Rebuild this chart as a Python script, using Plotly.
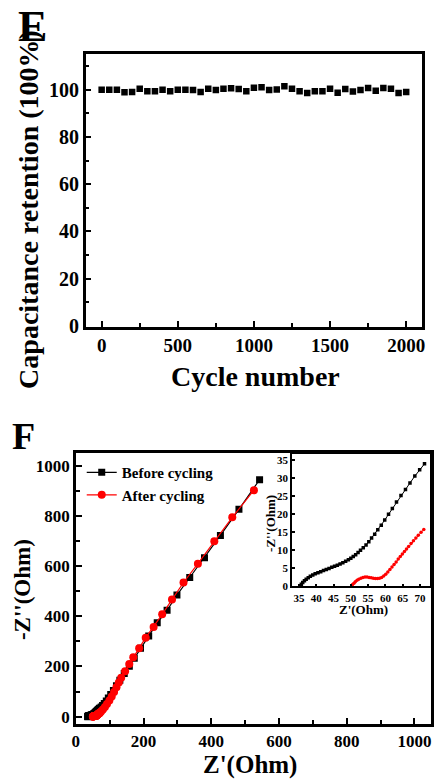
import plotly.graph_objects as go

# ---------------- Panel E data ----------------
cycles = list(range(0, 2001, 50))
retention = [100.0, 100.0, 100.0, 98.9, 99.0, 100.4, 99.4, 99.4, 100.0, 99.4,
             100.0, 100.0, 99.9, 99.0, 100.4, 99.9, 100.4, 100.6, 100.3, 99.3,
             100.8, 101.0, 99.9, 100.1, 101.5, 100.4, 99.3, 98.6, 99.4, 99.4,
             100.4, 98.7, 100.3, 99.2, 99.9, 100.7, 99.6, 100.7, 100.4, 98.6, 99.0]

# ---------------- Panel F data ----------------
# high-frequency part (shown in the inset and in the main plot)
before_zre_hf = [35.3, 35.7, 36.1, 36.6, 37.1, 37.7, 38.3, 39.0, 39.7, 40.5, 41.3, 42.1,
                 42.9, 43.7, 44.5, 45.3, 46.1, 46.9, 47.7, 48.5, 49.3, 50.0, 50.7, 51.4,
                 52.1, 52.8, 53.6, 54.4, 55.2, 56.0, 56.9, 57.8, 58.8, 59.8, 60.9, 62.0,
                 63.2, 64.5, 65.8, 67.1, 68.5, 69.9, 71.3]
before_zim_hf = [0.0, 0.6, 1.1, 1.6, 2.0, 2.4, 2.8, 3.2, 3.5, 3.8, 4.1, 4.4,
                 4.7, 5.0, 5.3, 5.6, 5.9, 6.2, 6.6, 7.0, 7.4, 7.8, 8.3, 8.8,
                 9.4, 10.0, 10.7, 11.5, 12.4, 13.4, 14.5, 15.7, 17.0, 18.4, 20.0, 21.6,
                 23.4, 25.2, 26.9, 28.7, 30.6, 32.4, 34.0]
# low-frequency part (main plot only)
before_zre_lf = [75, 79, 84, 90, 96, 103, 111, 120, 130, 143, 158, 172.6, 191, 215.2,
                 240.4, 269.5, 298.6, 336.4, 380, 427, 481.7, 542.7]
before_zim_lf = [38, 44, 52, 62, 74, 88, 104, 123, 145, 172, 201, 233, 273, 322,
                 374, 424, 485, 555, 634, 723, 827, 945]

after_zre_hf = [50.2, 50.5, 50.9, 51.3, 51.8, 52.3, 52.9, 53.5, 54.1, 54.7, 55.3, 55.9,
                56.5, 57.1, 57.7, 58.3, 58.9, 59.5, 60.1, 60.7, 61.3, 61.9, 62.5, 63.1,
                63.7, 64.3, 64.9, 65.5, 66.1, 66.7, 67.4, 68.1, 68.8, 69.5, 70.3, 71.1]
after_zim_hf = [0.0, 0.5, 0.9, 1.3, 1.7, 2.0, 2.3, 2.5, 2.6, 2.6, 2.5, 2.4,
                2.3, 2.2, 2.2, 2.3, 2.5, 2.9, 3.4, 4.0, 4.7, 5.4, 6.1, 6.8,
                7.6, 8.3, 9.0, 9.7, 10.4, 11.1, 11.9, 12.7, 13.4, 14.2, 15.0, 15.8]
after_zre_lf = [75, 80, 86, 92, 99, 106, 113, 120, 127, 134, 145.5, 158, 169.6, 187,
                206.4, 229.7, 255, 284, 318, 360.5, 409, 462, 526]
after_zim_lf = [21, 28, 38, 50, 64, 80, 98, 117, 136, 155, 181, 210, 237, 273,
                315, 358, 408, 467, 535, 610, 700, 795, 903]

W, H = 436, 784
FONT = "Liberation Serif"


def px_x(p):
    return p / W


def px_y(p):
    return 1 - p / H


fig = go.Figure()

fig.add_trace(go.Scatter(x=cycles, y=retention, mode="markers",
                         marker=dict(symbol="square", size=6.5, color="black"),
                         xaxis="x", yaxis="y", showlegend=False))

fig.add_trace(go.Scatter(x=before_zre_hf + before_zre_lf, y=before_zim_hf + before_zim_lf,
                         mode="lines+markers", name="Before cycling",
                         line=dict(color="black", width=1.2),
                         marker=dict(symbol="square", size=7, color="black"),
                         xaxis="x2", yaxis="y2"))
fig.add_trace(go.Scatter(x=after_zre_hf + after_zre_lf, y=after_zim_hf + after_zim_lf,
                         mode="lines+markers", name="After cycling",
                         line=dict(color="red", width=1.2),
                         marker=dict(symbol="circle", size=8, color="red"),
                         xaxis="x2", yaxis="y2"))

fig.add_trace(go.Scatter(x=before_zre_hf, y=before_zim_hf, mode="lines+markers",
                         line=dict(color="black", width=1),
                         marker=dict(symbol="square", size=3.5, color="black"),
                         xaxis="x3", yaxis="y3", showlegend=False))
fig.add_trace(go.Scatter(x=after_zre_hf, y=after_zim_hf, mode="lines+markers",
                         line=dict(color="red", width=1),
                         marker=dict(symbol="circle", size=3.5, color="red"),
                         xaxis="x3", yaxis="y3", showlegend=False))

ax_common = dict(showgrid=False, zeroline=False, showline=True, linecolor="black",
                 mirror=True, ticks="inside", tickcolor="black")

fig.update_layout(
    width=W, height=H, margin=dict(l=0, r=0, t=0, b=0),
    paper_bgcolor="white", plot_bgcolor="white",
    font=dict(family=FONT, color="black", weight="bold"),
    xaxis=dict(**ax_common, domain=[px_x(83), px_x(425)], range=[-105, 2105],
               tickvals=[0, 500, 1000, 1500, 2000], ticklen=6, tickwidth=2, linewidth=2.5,
               minor=dict(dtick=250, tick0=0, ticks="inside", ticklen=4, tickwidth=2),
               tickfont=dict(size=19, family=FONT, weight="bold"), anchor="y"),
    yaxis=dict(**ax_common, domain=[px_y(331), px_y(55)], range=[-0.4, 115],
               tickvals=[0, 20, 40, 60, 80, 100], ticklen=6, tickwidth=2, linewidth=2.5,
               minor=dict(dtick=10, tick0=0, ticks="inside", ticklen=4, tickwidth=2),
               tickfont=dict(size=20, family=FONT, weight="bold"), anchor="x"),
    xaxis2=dict(**ax_common, domain=[px_x(73), px_x(434)], range=[0, 1049],
                tickvals=[0, 200, 400, 600, 800, 1000], ticklen=6, tickwidth=2, linewidth=2.5,
                minor=dict(dtick=100, tick0=0, ticks="inside", ticklen=4, tickwidth=2),
                tickfont=dict(size=17, family=FONT, weight="bold"), anchor="y2"),
    yaxis2=dict(**ax_common, domain=[px_y(733), px_y(459)], range=[-28, 1051],
                tickvals=[0, 200, 400, 600, 800, 1000], ticklen=6, tickwidth=2, linewidth=2.5,
                minor=dict(dtick=100, tick0=0, ticks="inside", ticklen=4, tickwidth=2),
                tickfont=dict(size=17, family=FONT, weight="bold"), anchor="x2"),
    xaxis3=dict(**ax_common, domain=[px_x(292.7), px_x(433)], range=[33.0, 72.9],
                tickvals=[35, 40, 45, 50, 55, 60, 65, 70], ticklen=3, tickwidth=1.5, linewidth=1.8,
                tickfont=dict(size=11, family=FONT, weight="bold"), anchor="y3"),
    yaxis3=dict(**ax_common, domain=[px_y(594), px_y(460)], range=[0, 36.7],
                tickvals=[0, 5, 10, 15, 20, 25, 30, 35], ticklen=3, tickwidth=1.5, linewidth=1.8,
                tickfont=dict(size=11, family=FONT, weight="bold"), anchor="x3"),
    legend=dict(x=px_x(79), y=px_y(462), xanchor="left", yanchor="top",
                bgcolor="rgba(0,0,0,0)", font=dict(size=15, family=FONT, weight="bold"),
                tracegroupgap=0),
)

annos = [
    dict(text="E", x=px_x(12), y=px_y(27), xanchor="left", yanchor="middle", size=44, angle=0),
    dict(text="F", x=px_x(6), y=px_y(442), xanchor="left", yanchor="middle", size=38, angle=0),
    dict(text="Capacitance retention (100%)", x=px_x(25), y=px_y(212), xanchor="center",
         yanchor="middle", size=28, angle=-90),
    dict(text="Cycle number", x=px_x(256), y=px_y(381), xanchor="center", yanchor="middle",
         size=28, angle=0),
    dict(text="-Z''(Ohm)", x=px_x(19), y=px_y(597), xanchor="center", yanchor="middle",
         size=23, angle=-90),
    dict(text="Z'(Ohm)", x=px_x(250), y=px_y(775), xanchor="center", yanchor="middle",
         size=25, angle=0),
    dict(text="-Z''(Ohm)", x=px_x(271), y=px_y(530), xanchor="center", yanchor="middle",
         size=13, angle=-90),
    dict(text="Z'(Ohm)", x=px_x(365), y=px_y(617), xanchor="center", yanchor="middle",
         size=13, angle=0),
]
for a in annos:
    fig.add_annotation(text=a["text"], x=a["x"], y=a["y"], xref="paper", yref="paper",
                       xanchor=a["xanchor"], yanchor=a["yanchor"], textangle=a["angle"],
                       showarrow=False,
                       font=dict(size=a["size"], family=FONT, color="black", weight="bold"))

fig.write_html("out.html")
